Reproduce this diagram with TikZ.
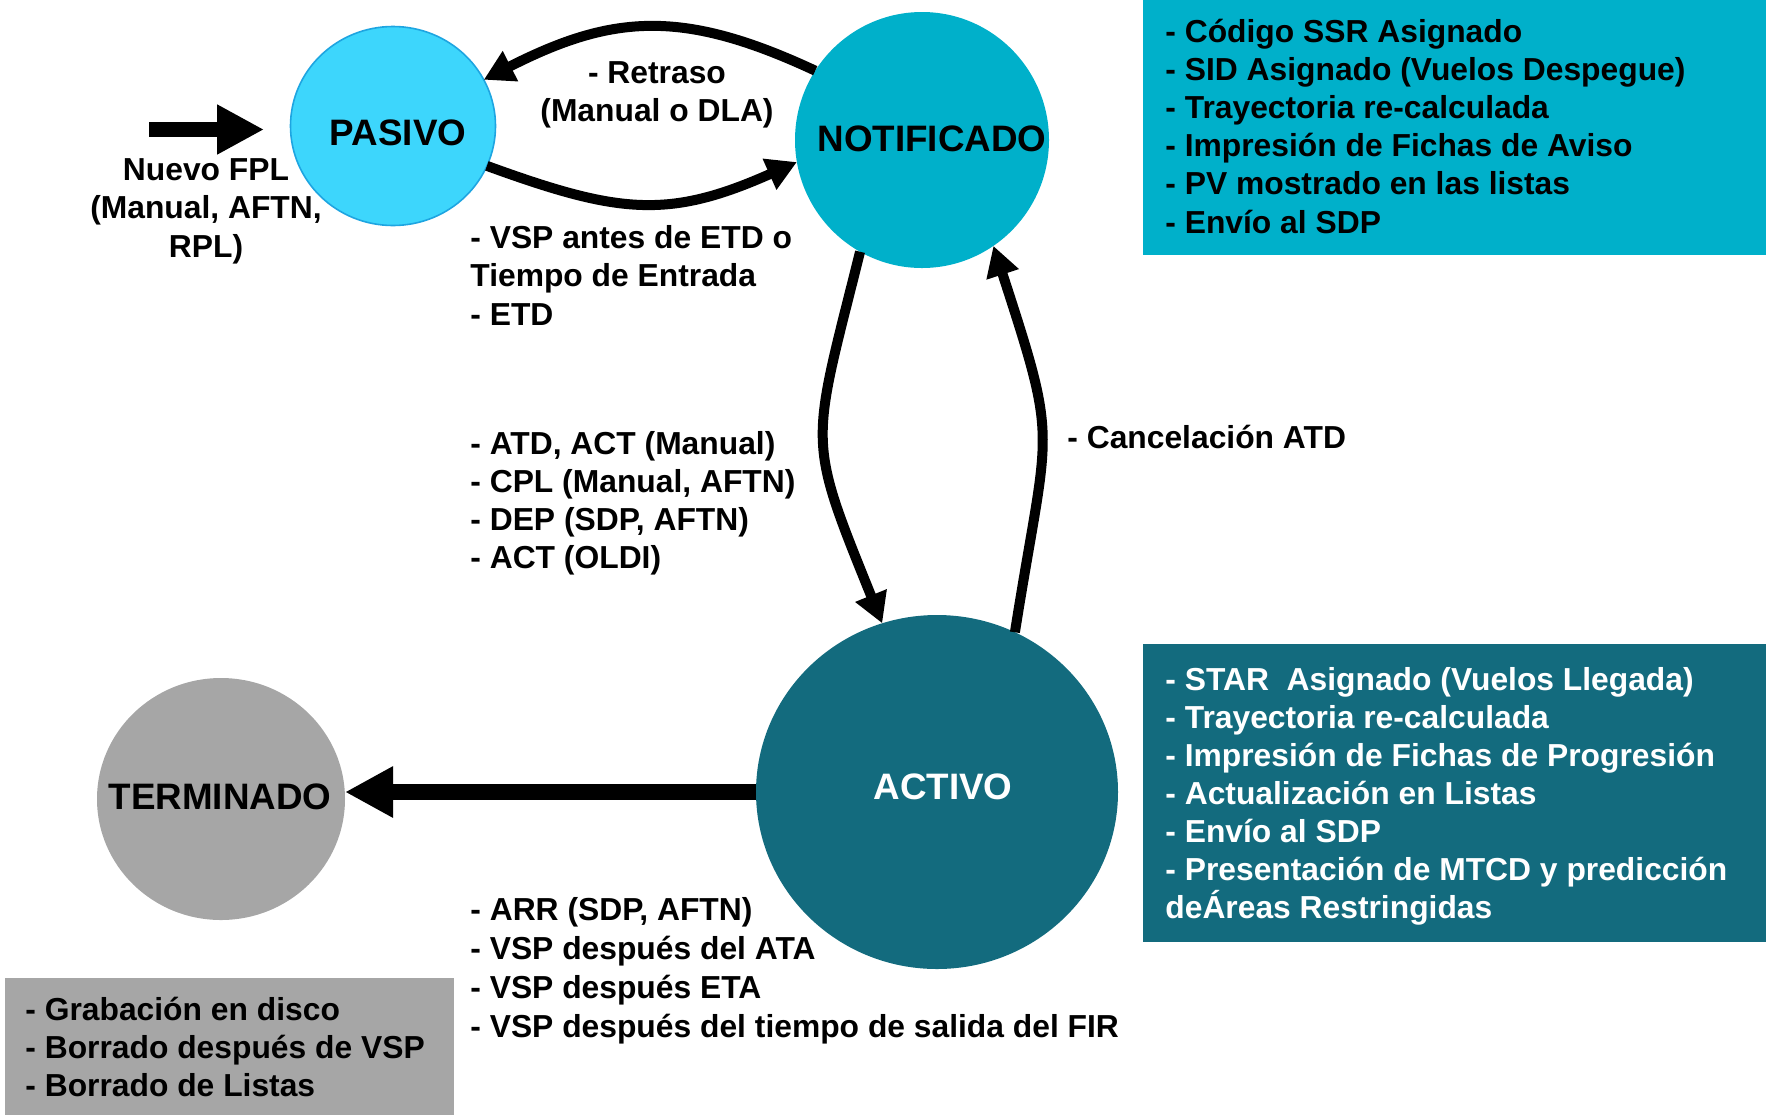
\documentclass[tikz,border=0pt]{standalone}
\usepackage{fontspec}
\setmainfont{Liberation Sans}
\usetikzlibrary{arrows.meta,shapes.geometric}

\definecolor{pasivofill}{RGB}{61,214,252}
\definecolor{pasivoedge}{RGB}{30,165,225}
\definecolor{notifcol}{RGB}{0,176,202}
\definecolor{activocol}{RGB}{19,107,126}
\definecolor{termcol}{RGB}{166,166,166}

\tikzset{
  state/.style={ellipse, inner sep=0pt, outer sep=0pt},
  statename/.style={font=\bfseries\fontsize{18.4}{22}\selectfont, anchor=base, inner sep=0pt},
  lbl/.style={font=\bfseries\fontsize{15.9}{19}\selectfont, anchor=base west, inner sep=0pt},
  lblc/.style={lbl, anchor=base},
  notebox/.style={rectangle, anchor=north west, inner sep=0pt, outer sep=0pt},
  flow/.style={line width=5pt, -{Triangle[length=15pt,width=16pt]}},
}

\begin{document}
\begin{tikzpicture}[x=0.5pt,y=0.5pt]
\useasboundingbox (0,0) rectangle (1766,-1115);

% information boxes
\node[notebox, fill=notifcol, minimum width=311.5pt, minimum height=127.5pt] (notnotes) at (1143,0) {};
\node[notebox, fill=activocol, minimum width=311.5pt, minimum height=149pt] (actnotes) at (1143,-644) {};
\node[notebox, fill=termcol, minimum width=224.5pt, minimum height=68.5pt] (termnotes) at (5,-978) {};

% states
\node[state, fill=pasivofill, draw=pasivoedge, line width=0.8pt, minimum width=102.5pt, minimum height=99.5pt] (pas) at (393,-126) {};
\node[state, fill=notifcol, minimum width=127pt, minimum height=128pt] (notif) at (922,-140) {};
\node[state, fill=activocol, minimum width=181pt, minimum height=177pt] (act) at (937,-792) {};
\node[state, fill=termcol, minimum width=124pt, minimum height=121pt] (term) at (221,-799) {};

\node[statename] (pastxt) at (398,-145) {PASIVO};
\node[statename] (notiftxt) at (932,-151) {NOTIFICADO};
\node[statename, text=white] (acttxt) at (943,-799) {ACTIVO};
\node[statename] (termtxt) at (220,-809) {TERMINADO};

% transitions
\coordinate (fplstart) at (149,-129.5);
\coordinate (fplend) at (264,-129.5);
\draw[line width=7.5pt, -{Triangle[length=23.5pt,width=23.5pt]}] (fplstart) -- (fplend);

\draw[flow] (notif.147) to[out=155,in=27,looseness=1.12] (pas.27);
\draw[flow] (pas.-23) to[out=-20,in=-156,looseness=1.16] (notif.190);
\draw[flow] (notif.241) to[out=256,in=112,looseness=1.4] (act.108);
\draw[flow] (act.64) to[out=81,in=-72,looseness=1.42] (notif.-56);
\draw[line width=8pt, -{Triangle[length=24pt,width=24pt]}] (act.west) -- (term.east |- act.west);

% transition labels
\node[lblc] (ret1) at (657,-83) {- Retraso};
\node[lblc] (ret2) at (657,-121) {(Manual o DLA)};

\node[lblc] (fpl1) at (206,-180) {Nuevo FPL};
\node[lblc] (fpl2) at (206,-218) {(Manual, AFTN,};
\node[lblc] (fpl3) at (206,-257) {RPL)};

\foreach \t [count=\i from 0] in {{- VSP antes de ETD o}, {Tiempo de Entrada}, {- ETD}}
  \node[lbl] (vsp\i) at (470,{-248-38.5*\i}) {\t};

\foreach \t [count=\i from 0] in {{- ATD, ACT (Manual)}, {- CPL (Manual, AFTN)}, {- DEP (SDP, AFTN)}, {- ACT (OLDI)}}
  \node[lbl] (atd\i) at (470,{-454-38.3*\i}) {\t};

\node[lbl] (canc) at (1067,-448) {- Cancelación ATD};

\foreach \t [count=\i from 0] in {{- ARR (SDP, AFTN)}, {- VSP después del ATA}, {- VSP después ETA}, {- VSP después del tiempo de salida del FIR}}
  \node[lbl] (arr\i) at (470,{-920-39*\i}) {\t};

% box contents
\foreach \t [count=\i from 0] in {{- Código SSR Asignado}, {- SID Asignado (Vuelos Despegue)}, {- Trayectoria re-calculada}, {- Impresión de Fichas de Aviso}, {- PV mostrado en las listas}, {- Envío al SDP}}
  \node[lbl] (nn\i) at (1165,{-42-38.2*\i}) {\t};

\foreach \t [count=\i from 0] in {{- STAR~ Asignado (Vuelos Llegada)}, {- Trayectoria re-calculada}, {- Impresión de Fichas de Progresión}, {- Actualización en Listas}, {- Envío al SDP}, {- Presentación de MTCD y predicción}, {deÁreas Restringidas}}
  \node[lbl, text=white] (an\i) at (1165,{-690-38*\i}) {\t};

\foreach \t [count=\i from 0] in {{- Grabación en disco}, {- Borrado después de VSP}, {- Borrado de Listas}}
  \node[lbl] (tn\i) at (25,{-1020-38*\i}) {\t};

\end{tikzpicture}
\end{document}
